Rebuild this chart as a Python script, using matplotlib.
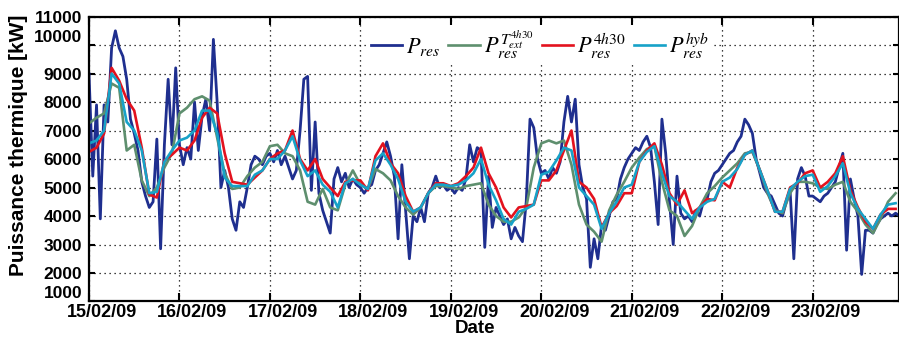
import matplotlib
matplotlib.use('Agg')
import matplotlib.pyplot as plt
import matplotlib.dates as mdates
import matplotlib.transforms as mtransforms
import pandas as pd

plt.rcParams['font.family'] = ['Liberation Sans', 'DejaVu Sans']
plt.rcParams['mathtext.fontset'] = 'stix'

start = pd.Timestamp('2009-02-15 00:00')

# measured load, one value per hour
p_res = [
    9000, 5400, 7900, 3900, 7900, 7300, 9900, 10500, 9900, 9600, 8800, 7400,
    6900, 6300, 5200, 4700, 4300, 4500, 6700, 2850, 6500, 8800, 6500, 9200,
    6500, 5800, 6400, 6000, 8000, 6300, 7500, 8100, 7000, 10200, 8000, 5000,
    5600, 5000, 3900, 3500, 4500, 4300, 5000, 5800, 6100, 6000, 5800, 6100,
    6200, 5900, 6300, 5800, 6100, 5700, 5300, 5600, 7000, 8800, 8900, 4900,
    7300, 4800, 4200, 3800, 3400, 5300, 5700, 5200, 5500, 5000, 5300, 5100,
    5000, 4800, 5000, 5100, 5600, 5800, 6200, 6600, 6100, 5400, 3200, 5800,
    4200, 2500, 4000, 3800, 4300, 3800, 4800, 5000, 5400, 5000, 5100, 4900,
    5000, 4800, 5000, 4900, 5300, 6500, 5900, 6400, 6300, 2900, 5400, 3600,
    4300, 4000, 3700, 3900, 3200, 3600, 3300, 3100, 4500, 7400, 7100, 6000,
    5500, 5600, 5300, 5700, 5500, 5900, 7300, 8200, 7300, 8100, 5800, 5000,
    4600, 2200, 3200, 2500, 3700, 3500, 4000, 4500, 4600, 5300, 5700, 6000,
    6200, 6400, 6300, 6600, 6800, 6400, 5200, 3700, 7400, 6200, 4500, 3000,
    5400, 4100, 3900, 4000, 3800, 4200, 4000, 4500, 4600, 5200, 5500, 5600,
    5800, 6000, 6200, 6300, 6600, 6800, 7400, 7200, 6900, 6000, 5500, 5000,
    4800, 4700, 4400, 4100, 4000, 4500, 4900, 2500, 5300, 5700, 5400, 4700,
    4700, 4600, 4500, 4700, 4800, 5000, 5200, 5700, 6200, 2800, 5300, 4600,
    4000, 1950, 3500, 3500, 3400, 3700, 3900, 4000, 4100, 4000, 4100, 4000,
]

# models, one value every 2 hours
p_text = [
    7250, 7450, 7600, 8650, 8500, 6300, 6500, 5250, 4700, 5000, 5700, 6200,
    7600, 7800, 8100, 8200, 8050, 6750, 5500, 4950, 5000, 5400, 5700, 5900,
    6450, 6500, 6200, 6100, 5600, 4500, 4400, 4950, 4300, 4200, 5100, 5600,
    5100, 4950, 5650, 5500, 5250, 4700, 4300, 4050, 4300, 4800, 5050, 5050,
    5000, 4950, 5050, 5100, 5150, 4400, 4000, 3800, 3800, 3950, 4300, 5700,
    6550, 6650, 6550, 6650, 5800, 4400, 3700, 3450, 3100, 4200, 4750, 5200,
    5700, 6050, 6350, 6450, 5200, 4200, 4000, 3300, 3650, 4300, 4800, 5050,
    5350, 5600, 5850, 6200, 6250, 5600, 4800, 4200, 4100, 4800, 5200, 5200,
    5150, 5000, 4950, 5100, 5200, 4500, 4150, 3700, 3400, 3900, 4500, 4800,
]
p_4h30 = [
    6250, 6400, 6900, 9200, 8750, 8100, 7700, 6400, 4750, 4650, 5950, 6150,
    6400, 6300, 6650, 7450, 7800, 7600, 6200, 5200, 5150, 5100, 5350, 5600,
    6000, 6200, 6300, 7000, 6000, 5600, 6000, 5300, 5000, 4700, 5200, 5250,
    5250, 4900, 6100, 6550, 5850, 5500, 4700, 4150, 4300, 4800, 5150, 5150,
    5050, 5150, 5400, 5700, 6400, 5500, 5000, 4300, 3950, 4300, 4350, 4400,
    5250, 5250, 5600, 6300, 7000, 5200, 5000, 4600, 3600, 4100, 4350, 4800,
    4800, 5900, 6300, 6550, 5800, 4800, 4400, 4900, 4100, 4300, 4600, 4550,
    5200, 5000, 5700, 6150, 6300, 5600, 4900, 4150, 4150, 5000, 5150, 5500,
    5600, 5000, 5200, 5500, 6100, 4900, 4300, 3800, 3550, 4050, 4250, 4250,
]
p_hyb = [
    6550, 6650, 7000, 9000, 8650, 7300, 7000, 6300, 4800, 4850, 5900, 6300,
    6650, 6750, 7000, 7700, 7700, 6900, 5350, 5050, 5050, 5050, 5450, 5600,
    6000, 6000, 6300, 6800, 5950, 5400, 5600, 5100, 4850, 4300, 5150, 5300,
    5100, 4950, 5950, 6200, 5800, 5300, 4500, 4150, 4300, 4800, 5100, 5100,
    5050, 5100, 5250, 5500, 6000, 5100, 4550, 3900, 3700, 4150, 4250, 4400,
    5450, 5550, 5950, 6400, 6300, 5000, 4700, 4400, 3550, 4100, 4500, 5000,
    5100, 5900, 6250, 6450, 5500, 4700, 4500, 4200, 3900, 4300, 4500, 4600,
    5200, 5350, 5650, 6150, 6300, 5600, 4900, 4150, 4150, 4950, 5200, 5400,
    5450, 4850, 5050, 5400, 5850, 4800, 4250, 3900, 3550, 4050, 4400, 4450,
]

labels = [r'$P_{res}$', r'$P_{res}^{T_{ext}^{4h30}}$',
          r'$P_{res}^{4h30}$', r'$P_{res}^{hyb}$']
colors = ['#1f2f8f', '#5e8f6e', '#e3121e', '#17a2c8']

t_1h = pd.date_range(start, periods=len(p_res), freq='h')
t_2h = pd.date_range(start, periods=len(p_text), freq='2h')

fig = plt.figure(figsize=(8.99, 3.38), dpi=100)
ax = fig.add_axes([0.099, 0.108, 0.901, 0.843])

ax.plot(t_1h, p_res, color=colors[0], lw=2.0, label=labels[0])
ax.plot(t_2h, p_text, color=colors[1], lw=1.9, label=labels[1])
ax.plot(t_2h, p_4h30, color=colors[2], lw=1.9, label=labels[2])
ax.plot(t_2h, p_hyb, color=colors[3], lw=1.9, label=labels[3])

ax.set_xlim(start, start + pd.Timedelta(hours=214.9))
ax.set_ylim(1000, 11000)
ax.set_yticks(range(1000, 11001, 1000))
ax.xaxis.set_major_locator(mdates.DayLocator())
ax.xaxis.set_major_formatter(mdates.DateFormatter('%d/%m/%y'))

ax.tick_params(direction='in', top=True, right=True, width=1.5)
ax.tick_params(axis='x', length=6, labelsize=13, pad=2)
ax.tick_params(axis='y', length=4, labelsize=12.5, pad=5)
for s in ax.spines.values():
    s.set_linewidth(1.6)

ax.grid(True, color='k', linestyle=(0, (1, 3)), linewidth=0.9)

fig.canvas.draw()

# date labels sit a little right of their tick
offset = mtransforms.ScaledTranslation(0.13, 0, fig.dpi_scale_trans)
for tick in ax.xaxis.get_major_ticks():
    tick.label1.set_fontweight('bold')
    tick.label1.set_transform(tick.label1.get_transform() + offset)

# 1000 and 10000 labels are nudged up in the original
up = mtransforms.ScaledTranslation(0, 0.095, fig.dpi_scale_trans)
for i, tick in enumerate(ax.yaxis.get_major_ticks()):
    tick.label1.set_fontweight('bold')
    if i in (0, 9):
        tick.label1.set_transform(tick.label1.get_transform() + up)

ax.set_ylabel('Puissance thermique [kW]', fontsize=15, fontweight='bold')
ax.yaxis.set_label_coords(-0.075, 0.547)
ax.set_xlabel('Date', fontsize=13.5, fontweight='bold')
ax.xaxis.set_label_coords(0.477, -0.066)

leg = ax.legend(loc='center', bbox_to_anchor=(0.557, 0.9), ncol=4,
                prop={'size': 16}, handlelength=1.4,
                handletextpad=0.2, columnspacing=0.35, borderaxespad=0,
                fancybox=False, framealpha=1, borderpad=0.2)
leg.get_frame().set_linewidth(0)

fig.savefig('out.png', dpi=100)
